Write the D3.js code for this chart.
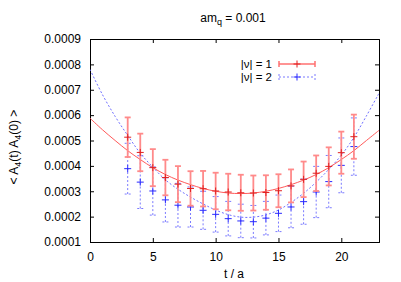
<!DOCTYPE html>
<meta charset="utf-8">
<head>
<script src="https://d3js.org/d3.v7.min.js"></script>
<style>
  body { margin: 0; background: #fff; }
  text { font-family: "Liberation Sans", Arial, sans-serif; }
</style>
</head>
<body>
<svg id="chart" width="401" height="282"></svg>
<script>
// data
var tVals = [3, 4, 5, 6, 7, 8, 9, 10, 11, 12, 13, 14, 15, 16, 17, 18, 19, 20, 21];

var nu1 = [0.000513, 0.000453, 0.000393, 0.000354, 0.000328, 0.000311, 0.000310, 0.000301, 0.000297, 0.000294,
           0.000293, 0.000295, 0.000302, 0.000321, 0.000347, 0.000371, 0.000398, 0.000452, 0.000515];
var nu1Err = [0.000078, 0.000074, 0.000073, 0.000070, 0.000071, 0.000068, 0.000070, 0.000072, 0.000072, 0.000071,
              0.000069, 0.000068, 0.000065, 0.000065, 0.000070, 0.000070, 0.000075, 0.000083, 0.000087];

var nu2 = [0.000389, 0.000336, 0.000301, 0.000266, 0.000245, 0.000238, 0.000225, 0.000209, 0.000192, 0.000183,
           0.000180, 0.000194, 0.000213, 0.000238, 0.000259, 0.000297, 0.000338, 0.000402, 0.000476];
var nu2Err = [0.000100, 0.000104, 0.000095, 0.000087, 0.000086, 0.000079, 0.000075, 0.000070, 0.000068, 0.000066,
              0.000064, 0.000066, 0.000072, 0.000082, 0.000089, 0.000101, 0.000103, 0.000108, 0.000113];

// fit curves, sampled at t = 0..23
var fitT = d3.range(0, 24);
var fit1 = [0.000588, 0.000542, 0.000500, 0.000460, 0.000425, 0.000393, 0.000366, 0.000344, 0.000326, 0.000311,
            0.000300, 0.000293, 0.000291, 0.000293, 0.000300, 0.000311, 0.000326, 0.000344, 0.000366, 0.000393,
            0.000425, 0.000460, 0.000500, 0.000540];
var fit2 = [0.000780, 0.000680, 0.000595, 0.000520, 0.000450, 0.000395, 0.000345, 0.000308, 0.000277, 0.000250,
            0.000226, 0.000208, 0.000198, 0.000198, 0.000207, 0.000226, 0.000256, 0.000292, 0.000336, 0.000386,
            0.000442, 0.000512, 0.000597, 0.000686];

var xTicks = [0, 5, 10, 15, 20];
var yTicks = [0.0001, 0.0002, 0.0003, 0.0004, 0.0005, 0.0006, 0.0007, 0.0008, 0.0009];

var m = {left: 90, right: 22, top: 39, bottom: 40};
var W = 401, H = 282;

var svg = d3.select("#chart");
var x = d3.scaleLinear().domain([0, 23]).range([m.left, W - m.right]);
var y = d3.scaleLinear().domain([0.0001, 0.0009]).range([H - m.bottom, m.top]);

svg.append("clipPath").attr("id", "clip")
  .append("rect").attr("x", m.left).attr("y", m.top)
  .attr("width", W - m.left - m.right).attr("height", H - m.top - m.bottom);

// axes with inward ticks on all four sides
svg.append("g").attr("transform", "translate(0," + (H - m.bottom) + ")")
  .call(d3.axisBottom(x).tickValues(xTicks).tickSize(-4).tickPadding(10).tickFormat(d3.format("d")));
svg.append("g").attr("transform", "translate(0," + m.top + ")")
  .call(d3.axisTop(x).tickValues(xTicks).tickSize(-4).tickFormat(""));
svg.append("g").attr("transform", "translate(" + m.left + ",0)")
  .call(d3.axisLeft(y).tickValues(yTicks).tickSize(-4).tickPadding(9).tickFormat(d3.format(".4f")));
svg.append("g").attr("transform", "translate(" + (W - m.right) + ",0)")
  .call(d3.axisRight(y).tickValues(yTicks).tickSize(-4).tickFormat(""));
svg.selectAll(".tick text").attr("font-size", 12).attr("fill", "#000")
  .style("font-family", "Liberation Sans, Arial, sans-serif");
svg.selectAll(".domain").attr("stroke", "#000");

var plot = svg.append("g").attr("clip-path", "url(#clip)");

var line = d3.line().x(function(d) { return x(d[0]); }).y(function(d) { return y(d[1]); })
  .curve(d3.curveCatmullRom);

plot.append("path").datum(d3.zip(fitT, fit2))
  .attr("d", line).attr("fill", "none").attr("stroke", "#6f6fff")
  .attr("stroke-width", 1).attr("stroke-dasharray", "2,2");
plot.append("path").datum(d3.zip(fitT, fit1))
  .attr("d", line).attr("fill", "none").attr("stroke", "#ff5a5a").attr("stroke-width", 1);

function errorBars(vals, errs, barColor, width, dash, markColor) {
  var g = plot.append("g");
  tVals.forEach(function(t, i) {
    var cx = x(t), lo = y(vals[i] - errs[i]), hi = y(vals[i] + errs[i]), cy = y(vals[i]);
    var s = g.append("g").attr("stroke", barColor).attr("stroke-width", width).attr("fill", "none");
    if (dash) s.attr("stroke-dasharray", dash);
    s.append("line").attr("x1", cx).attr("x2", cx).attr("y1", lo).attr("y2", hi);
    s.append("line").attr("x1", cx - 3).attr("x2", cx + 3).attr("y1", lo).attr("y2", lo);
    s.append("line").attr("x1", cx - 3).attr("x2", cx + 3).attr("y1", hi).attr("y2", hi);
    var p = g.append("g").attr("stroke", markColor).attr("stroke-width", 1);
    p.append("line").attr("x1", cx - 3.5).attr("x2", cx + 3.5).attr("y1", cy).attr("y2", cy);
    p.append("line").attr("x1", cx).attr("x2", cx).attr("y1", cy - 3.5).attr("y2", cy + 3.5);
  });
}
errorBars(nu2, nu2Err, "#7a7aff", 1, "2,2", "#2a2aff");
errorBars(nu1, nu1Err, "#ff8a8a", 1.8, null, "#e02020");

// legend
var leg = svg.append("g");
function legendRow(label, yy, color, width, dash, markColor) {
  leg.append("text").attr("x", 272).attr("y", yy + 4).attr("text-anchor", "end")
    .attr("font-size", 11.5).text(label);
  var s = leg.append("g").attr("stroke", color).attr("stroke-width", width);
  if (dash) s.attr("stroke-dasharray", dash);
  s.append("line").attr("x1", 279).attr("x2", 315).attr("y1", yy).attr("y2", yy);
  s.append("line").attr("x1", 279).attr("x2", 279).attr("y1", yy - 3).attr("y2", yy + 3);
  s.append("line").attr("x1", 315).attr("x2", 315).attr("y1", yy - 3).attr("y2", yy + 3);
  var p = leg.append("g").attr("stroke", markColor);
  p.append("line").attr("x1", 293.5).attr("x2", 300.5).attr("y1", yy).attr("y2", yy);
  p.append("line").attr("x1", 297).attr("x2", 297).attr("y1", yy - 3.5).attr("y2", yy + 3.5);
}
legendRow("|\u03bd| = 1", 64, "#ff7070", 1.5, null, "#e02020");
legendRow("|\u03bd| = 2", 77, "#7a7aff", 1, "2,2", "#2a2aff");

// title and axis labels
var title = svg.append("text").attr("x", 233).attr("y", 22).attr("text-anchor", "middle").attr("font-size", 12);
title.append("tspan").text("am");
title.append("tspan").attr("font-size", 9).attr("dy", 3).text("q");
title.append("tspan").attr("dy", -3).text(" = 0.001");

svg.append("text").attr("x", 234).attr("y", 278).attr("text-anchor", "middle").attr("font-size", 12).text("t / a");

var yl = svg.append("text").attr("transform", "translate(18,147) rotate(-90)")
  .attr("text-anchor", "middle").attr("font-size", 12);
yl.append("tspan").text("< A");
yl.append("tspan").attr("font-size", 9).attr("dy", 3).text("4");
yl.append("tspan").attr("dy", -3).text("(t) A");
yl.append("tspan").attr("font-size", 9).attr("dy", 3).text("4");
yl.append("tspan").attr("dy", -3).text("(0) >");
</script>
</body>
